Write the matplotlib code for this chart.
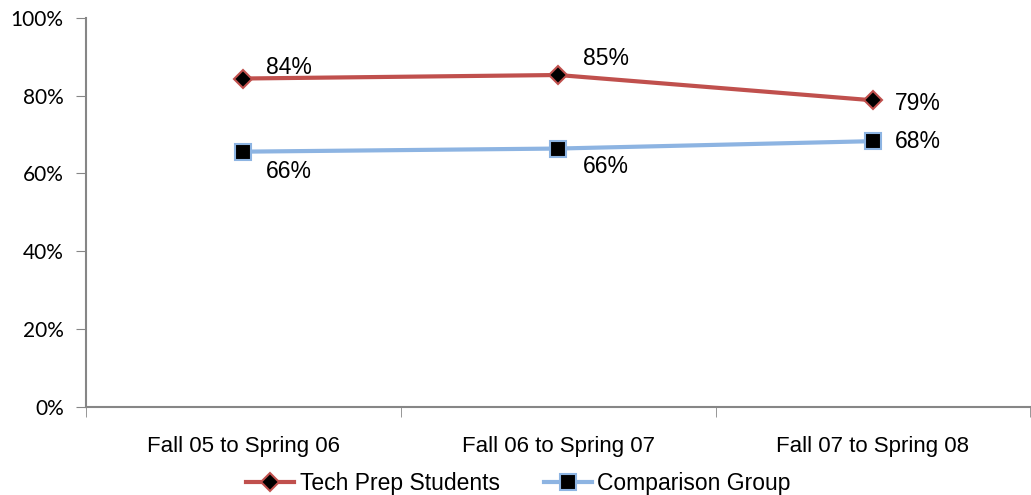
import matplotlib.pyplot as plt
from matplotlib.ticker import PercentFormatter

periods = ["Fall 05 to Spring 06", "Fall 06 to Spring 07", "Fall 07 to Spring 08"]
tech_prep = [0.844, 0.853, 0.788]
comparison = [0.656, 0.664, 0.683]

# label offsets in points (dx, dy) for each point
tech_offsets = [(16, 8), (18, 12), (16, -2)]
comp_offsets = [(16, -14), (18, -13), (16, 0)]

plt.rcParams['font.family'] = ['Liberation Sans', 'DejaVu Sans']

fig = plt.figure(figsize=(10.31, 4.95), dpi=100)
ax = fig.add_axes([0.0834, 0.178, 0.916, 0.786])

x = list(range(len(periods)))
ax.plot(x, tech_prep, color="#C0504D", lw=3, marker="D", ms=9.5,
        mfc="black", mec="#C0504D", mew=1.5, label="Tech Prep Students")
ax.plot(x, comparison, color="#8DB4E2", lw=3, marker="s", ms=12,
        mfc="black", mec="#8DB4E2", mew=1.5, label="Comparison Group")

for i in x:
    ax.annotate(f"{tech_prep[i]*100:.0f}%", (x[i], tech_prep[i]),
                xytext=tech_offsets[i], textcoords="offset points",
                ha="left", va="center", fontsize=16.5)
    ax.annotate(f"{comparison[i]*100:.0f}%", (x[i], comparison[i]),
                xytext=comp_offsets[i], textcoords="offset points",
                ha="left", va="center", fontsize=16.5)

ax.set_xlim(-0.5, 2.5)
ax.set_ylim(0, 1)
ax.set_yticks([0, 0.2, 0.4, 0.6, 0.8, 1.0])
ax.yaxis.set_major_formatter(PercentFormatter(1.0, decimals=0))
ax.set_xticks(x)
ax.set_xticklabels(periods, fontsize=16)
ax.set_xticks([-0.5, 0.5, 1.5, 2.5], minor=True)
ax.tick_params(axis="x", which="major", length=0, pad=21)
ax.tick_params(axis="x", which="minor", length=7, color="#868686", direction="out")
ax.tick_params(axis="y", length=7, color="#868686", labelsize=15, pad=9)
for lab in ax.get_yticklabels():
    lab.set_family(["Lato", "DejaVu Sans"])

for s in ["top", "right"]:
    ax.spines[s].set_visible(False)
for s in ["left", "bottom"]:
    ax.spines[s].set_color("#868686")
    ax.spines[s].set_linewidth(1.5)

fig.legend(handles=ax.get_lines(), loc="center", bbox_to_anchor=(0.503, 0.024),
           ncol=2, frameon=False, fontsize=16.5, handlelength=2.1,
           handletextpad=0.25, columnspacing=1.9, borderpad=0)

plt.savefig("out.png", dpi=100)
